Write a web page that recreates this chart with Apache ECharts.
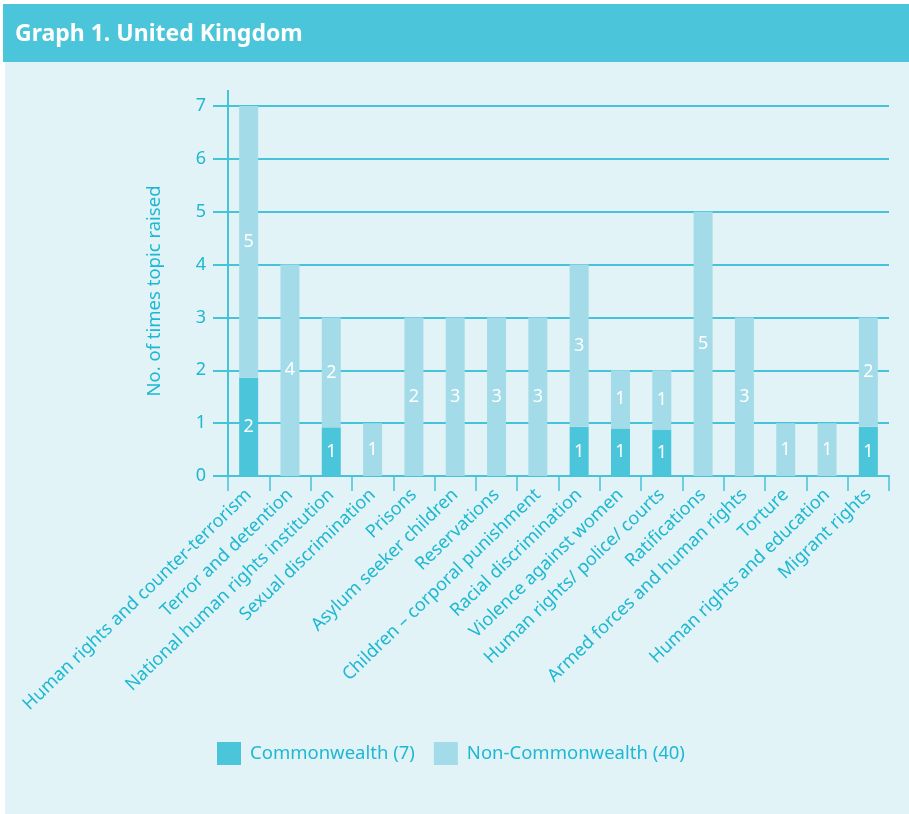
<!DOCTYPE html>
<html><head><meta charset="utf-8">
<script src="https://cdn.jsdelivr.net/npm/echarts@6/dist/echarts.min.js"></script>
<style>
html,body{margin:0;padding:0;background:#fff;}
#wrap{position:relative;width:909px;height:814px;overflow:hidden;}
#bar{position:absolute;left:3px;top:4px;width:906px;height:58px;background:#4ac5d9;}
#panel{position:absolute;left:5px;top:62px;width:904px;height:752px;background:#e1f3f6;}
#chart{position:absolute;left:0;top:0;width:909px;height:814px;}
</style></head>
<body><div id="wrap"><div id="bar"></div><div id="panel"></div><div id="chart"></div></div>
<script>
const categories = [
  'Human rights and counter-terrorism', 'Terror and detention', 'National human rights institution',
  'Sexual discrimination', 'Prisons', 'Asylum seeker children', 'Reservations',
  'Children \u2013 corporal punishment', 'Racial discrimination', 'Violence against women',
  'Human rights/ police/ courts', 'Ratifications', 'Armed forces and human rights', 'Torture',
  'Human rights and education', 'Migrant rights'
];
// printed counts
const commonwealthLabels    = [2, 0, 1, 0, 0, 0, 0, 0, 1, 1, 1, 0, 0, 0, 0, 1];
const nonCommonwealthLabels = [5, 4, 2, 1, 2, 3, 3, 3, 3, 1, 1, 5, 3, 1, 1, 2];
// drawn bar heights
const commonwealthHeights    = [1.86, 0, 0.92, 0, 0, 0, 0, 0, 0.93, 0.9, 0.88, 0, 0, 0, 0, 0.93];
const nonCommonwealthHeights = [5.14, 4, 2.08, 1, 3, 3, 3, 3, 3.07, 1.1, 1.12, 5, 3, 1, 1, 2.07];
const yTicks = [0, 1, 2, 3, 4, 5, 6, 7];
const seriesNames = ['Commonwealth (7)', 'Non-Commonwealth (40)'];

const TEXT = '#1fb8d2';
const LINE = '#45c4d9';
const FONT = '"Noto Sans", "Open Sans", sans-serif';

function lbl(arr) {
  return {
    show: true, position: 'inside', color: '#ffffff', fontSize: 18, fontFamily: FONT,
    formatter: p => arr[p.dataIndex] ? String(arr[p.dataIndex]) : ''
  };
}

const chart = echarts.init(document.getElementById('chart'), null, {renderer: 'canvas'});
chart.setOption({
  backgroundColor: 'transparent',
  animation: false,
  title: {
    text: 'Graph 1. United Kingdom', left: 10, top: 18,
    textStyle: {color: '#ffffff', fontSize: 23, fontWeight: 'bold', fontFamily: FONT}
  },
  legend: {
    left: 217, top: 742, padding: 0, itemWidth: 24, itemHeight: 23, itemGap: 19, icon: 'rect',
    data: seriesNames,
    textStyle: {color: TEXT, fontSize: 18.5, fontFamily: FONT, padding: [0, 0, 0, 4]}
  },
  grid: {left: 228, right: 20, top: 106, bottom: 338, containLabel: false},
  xAxis: {
    type: 'category', data: categories,
    axisLine: {lineStyle: {color: LINE, width: 2}},
    axisTick: {show: true, length: 15, lineStyle: {color: LINE, width: 1.5}},
    axisLabel: {interval: 0, rotate: 44, color: TEXT, fontSize: 18, fontFamily: FONT, margin: 16}
  },
  yAxis: {
    type: 'value', min: yTicks[0], max: yTicks[yTicks.length - 1], interval: 1,
    name: 'No. of times topic raised', nameLocation: 'middle', nameGap: 64,
    nameTextStyle: {color: TEXT, fontSize: 18.5, fontFamily: FONT},
    axisLine: {show: true, lineStyle: {color: LINE, width: 2}, symbol: ['none', 'rect'], symbolSize: [2, 32]},
    axisTick: {show: true, length: 15, lineStyle: {color: LINE, width: 2}},
    axisLabel: {color: TEXT, fontSize: 18, fontFamily: FONT, margin: 22},
    splitLine: {show: true, lineStyle: {color: LINE, width: 2}}
  },
  series: [
    {name: seriesNames[0], type: 'bar', stack: 'a', barWidth: 19, data: commonwealthHeights,
     itemStyle: {color: '#4ac5da'}, label: lbl(commonwealthLabels)},
    {name: seriesNames[1], type: 'bar', stack: 'a', barWidth: 19, data: nonCommonwealthHeights,
     itemStyle: {color: '#a3dce8'}, label: lbl(nonCommonwealthLabels)}
  ]
});
</script>
</body></html>
